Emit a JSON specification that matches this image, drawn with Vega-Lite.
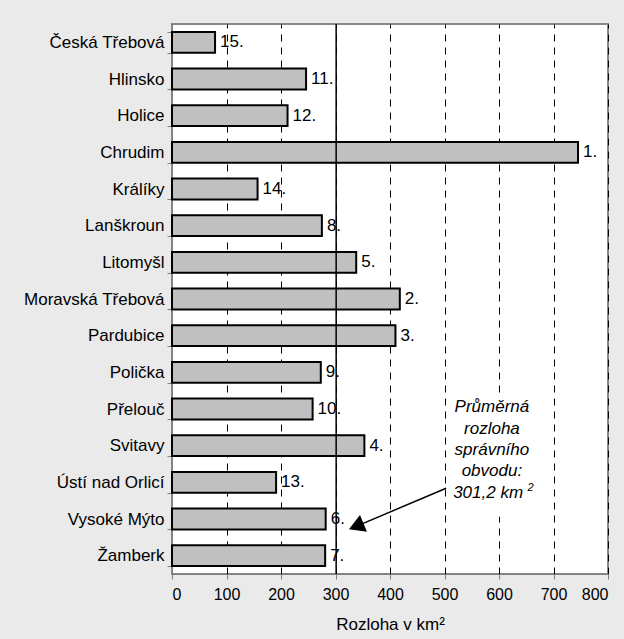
{
  "$schema": "https://vega.github.io/schema/vega-lite/v6.json",
  "autosize": {"type": "none"},
  "padding": {"left": 172, "top": 24, "right": 16, "bottom": 65},
  "width": 436,
  "height": 550,
  "background": "#eaeaea",
  "config": {
    "font": "Liberation Sans",
    "view": {"fill": "white", "stroke": "#888888", "strokeWidth": 2}
  },
  "datasets": {
    "obvody": [
      {"obvod": "Česká Třebová", "rozloha": 79, "poradi": "15."},
      {"obvod": "Hlinsko", "rozloha": 246, "poradi": "11."},
      {"obvod": "Holice", "rozloha": 212, "poradi": "12."},
      {"obvod": "Chrudim", "rozloha": 745, "poradi": "1."},
      {"obvod": "Králíky", "rozloha": 157, "poradi": "14."},
      {"obvod": "Lanškroun", "rozloha": 275, "poradi": "8."},
      {"obvod": "Litomyšl", "rozloha": 338, "poradi": "5."},
      {"obvod": "Moravská Třebová", "rozloha": 418, "poradi": "2."},
      {"obvod": "Pardubice", "rozloha": 410, "poradi": "3."},
      {"obvod": "Polička", "rozloha": 273, "poradi": "9."},
      {"obvod": "Přelouč", "rozloha": 258, "poradi": "10."},
      {"obvod": "Svitavy", "rozloha": 353, "poradi": "4."},
      {"obvod": "Ústí nad Orlicí", "rozloha": 191, "poradi": "13."},
      {"obvod": "Vysoké Mýto", "rozloha": 282, "poradi": "6."},
      {"obvod": "Žamberk", "rozloha": 281, "poradi": "7."}
    ]
  },
  "layer": [
    {
      "data": {"name": "obvody"},
      "layer": [
        {
          "mark": {"type": "bar", "fill": "#c0c0c0", "stroke": "black", "strokeWidth": 2},
          "encoding": {
            "y": {
              "field": "obvod", "type": "nominal", "sort": null,
              "scale": {"paddingInner": 0.43, "paddingOuter": 0.215},
              "axis": {
                "title": null, "labelFontSize": 17, "labelColor": "black",
                "tickBand": "extent", "tickSize": 5, "tickColor": "#808080",
                "domainColor": "#808080", "labelPadding": 3, "grid": false
              }
            },
            "x": {
              "field": "rozloha", "type": "quantitative",
              "scale": {"domain": [0, 800], "nice": false},
              "axis": {
                "title": "Rozloha v km²", "titleFontSize": 17, "titleFontWeight": "normal",
                "titleColor": "black", "titlePadding": 14,
                "values": [0, 100, 200, 300, 400, 500, 600, 700, 800],
                "labelFontSize": 16, "labelColor": "black", "labelPadding": 7,
                "tickSize": 5, "tickColor": "#808080", "domainColor": "#808080",
                "grid": true, "gridColor": "black", "gridDash": [7, 6], "gridWidth": 1,
                "gridOpacity": 1
              }
            }
          }
        },
        {
          "mark": {"type": "text", "align": "left", "baseline": "middle", "dx": 5, "fontSize": 17, "color": "black"},
          "encoding": {
            "y": {"field": "obvod", "type": "nominal", "sort": null},
            "x": {"field": "rozloha", "type": "quantitative"},
            "text": {"field": "poradi"}
          }
        },
        {
          "data": {"values": [{"prumer": 301.2}]},
          "mark": {"type": "rule", "color": "black", "strokeWidth": 1.5},
          "encoding": {"x": {"field": "prumer", "type": "quantitative"}}
        }
      ]
    },
    {
      "layer": [
        {
          "data": {"values": [{"x1": 513, "x2": 664, "y1": 10.12, "y2": 13.44}]},
          "mark": {"type": "rect", "fill": "white"},
          "encoding": {
            "x": {"field": "x1", "type": "quantitative"},
            "x2": {"field": "x2"},
            "y": {"field": "y1", "type": "quantitative", "scale": {"domain": [0, 15], "reverse": true, "nice": false, "zero": false}, "axis": null},
            "y2": {"field": "y2"}
          }
        },
        {
          "data": {"values": [{"x1": 503, "x2": 338, "y1": 12.66, "y2": 13.7}]},
          "mark": {"type": "rule", "color": "black", "strokeWidth": 1.5},
          "encoding": {
            "x": {"field": "x1", "type": "quantitative"},
            "x2": {"field": "x2"},
            "y": {"field": "y1", "type": "quantitative"},
            "y2": {"field": "y2"}
          }
        },
        {
          "data": {"values": [{"x": 338, "y": 13.7}]},
          "mark": {"type": "point", "shape": "triangle-left", "filled": true, "color": "black", "opacity": 1, "size": 330, "angle": 337.3},
          "encoding": {
            "x": {"field": "x", "type": "quantitative"},
            "y": {"field": "y", "type": "quantitative"}
          }
        },
        {
          "data": {"values": [
            {"x": 587, "y": 10.58, "t": "Průměrná", "s": 17},
            {"x": 587, "y": 11.18, "t": "rozloha", "s": 17},
            {"x": 587, "y": 11.75, "t": "správního", "s": 17},
            {"x": 587, "y": 12.33, "t": "obvodu:", "s": 17},
            {"x": 580, "y": 12.93, "t": "301,2 km", "s": 17},
            {"x": 658, "y": 12.74, "t": "2", "s": 11}
          ]},
          "mark": {"type": "text", "align": "center", "baseline": "alphabetic", "fontStyle": "italic", "color": "black"},
          "encoding": {
            "x": {"field": "x", "type": "quantitative"},
            "y": {"field": "y", "type": "quantitative"},
            "text": {"field": "t"},
            "size": {"field": "s", "type": "quantitative", "scale": null}
          }
        }
      ]
    }
  ],
  "resolve": {"scale": {"y": "independent"}}
}
